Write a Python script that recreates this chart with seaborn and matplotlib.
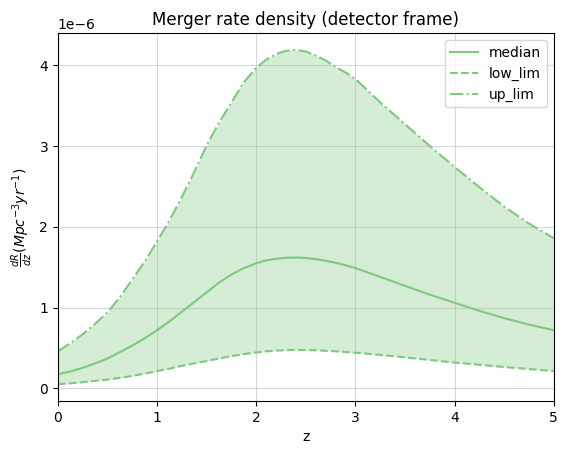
import numpy as np
import pandas as pd
import matplotlib
matplotlib.use("Agg")
import matplotlib.pyplot as plt
import seaborn as sns

# redshift grid and merger rate density curves (units of 1e-6)
z = [0.0, 0.125, 0.25, 0.375, 0.5, 0.625, 0.75, 0.875, 1.0, 1.125, 1.25, 1.375,
     1.5, 1.625, 1.75, 1.875, 2.0, 2.1, 2.2, 2.3, 2.4, 2.5, 2.6, 2.7, 2.8, 2.9,
     3.0, 3.25, 3.5, 3.75, 4.0, 4.25, 4.5, 4.75, 5.0]
median = [0.176, 0.21, 0.255, 0.31, 0.37, 0.45, 0.53, 0.62, 0.72, 0.83, 0.95, 1.07,
          1.19, 1.31, 1.41, 1.49, 1.55, 1.585, 1.605, 1.617, 1.62, 1.615, 1.60, 1.58, 1.555, 1.525,
          1.49, 1.38, 1.27, 1.16, 1.06, 0.96, 0.87, 0.79, 0.72]
low_lim = [0.053, 0.063, 0.077, 0.093, 0.11, 0.13, 0.155, 0.183, 0.215, 0.245, 0.28, 0.31,
           0.34, 0.37, 0.40, 0.425, 0.445, 0.458, 0.468, 0.474, 0.477, 0.476, 0.472, 0.466, 0.459, 0.451,
           0.442, 0.415, 0.385, 0.352, 0.32, 0.293, 0.265, 0.24, 0.215]
up_lim = [0.46, 0.56, 0.67, 0.80, 0.94, 1.13, 1.35, 1.57, 1.82, 2.08, 2.37, 2.68,
          3.01, 3.29, 3.54, 3.79, 3.97, 4.07, 4.14, 4.18, 4.19, 4.17, 4.12, 4.06, 3.98, 3.91,
          3.83, 3.54, 3.27, 3.00, 2.74, 2.49, 2.25, 2.04, 1.86]

df = pd.DataFrame({"z": z,
                   "median": np.array(median) * 1e-6,
                   "low_lim": np.array(low_lim) * 1e-6,
                   "up_lim": np.array(up_lim) * 1e-6})

col = "#7fc97f"
fig, ax = plt.subplots(figsize=(5.68, 4.55), dpi=100)
fig.subplots_adjust(left=0.102, right=0.975, top=0.927, bottom=0.119)

sns.lineplot(data=df, x="z", y="median", color=col, ls="-", label="median", ax=ax)
sns.lineplot(data=df, x="z", y="low_lim", color=col, ls="--", label="low_lim", ax=ax)
sns.lineplot(data=df, x="z", y="up_lim", color=col, ls="-.", label="up_lim", ax=ax)
ax.fill_between(df["z"], df["low_lim"], df["up_lim"], color=col, alpha=0.33, lw=0)

ax.set_xlim(0, 5)
ax.grid(alpha=0.5)
ax.set_xlabel("z")
ax.set_ylabel(r"$\frac{dR}{dz} (Mpc^{-3}yr^{-1})$")
ax.set_title("Merger rate density (detector frame)")
ax.legend(loc="upper right")

fig.savefig("out.png", dpi=100)
